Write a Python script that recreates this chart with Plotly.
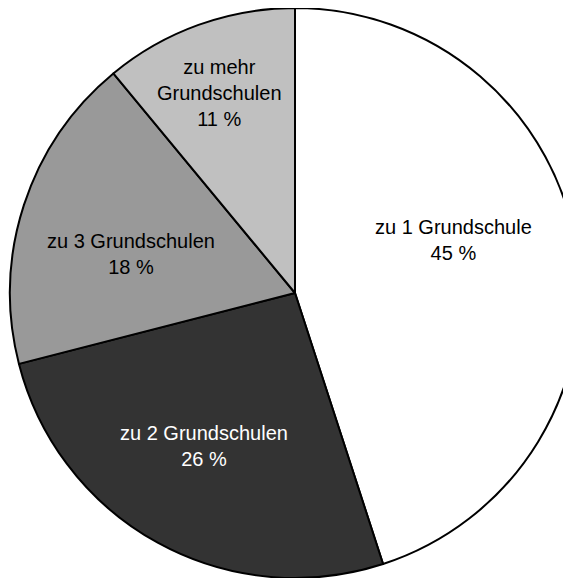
import plotly.graph_objects as go

# data
labels = ["zu 1 Grundschule", "zu 2 Grundschulen", "zu 3 Grundschulen", "zu mehr Grundschulen"]
display = ["zu 1 Grundschule", "zu 2 Grundschulen", "zu 3 Grundschulen", "zu mehr<br>Grundschulen"]
values = [45, 26, 18, 11]

# styling
C_SLICES = ["#ffffff", "#333333", "#999999", "#c0c0c0"]
C_TEXT = ["#000000", "#ffffff", "#000000", "#000000"]
FONT = "Liberation Sans, Arial, sans-serif"

# label placement in paper coordinates (the original puts them off-centroid)
LABEL_POS = [(0.777, 0.593), (0.341, 0.232), (0.214, 0.568), (0.369, 0.851)]

fig = go.Figure(go.Pie(
    labels=labels,
    values=values,
    textinfo="none",
    marker=dict(colors=C_SLICES, line=dict(color="#000000", width=2)),
    sort=False,
    direction="clockwise",
    rotation=0,
    showlegend=False,
    domain=dict(x=[0, 1], y=[0, 1]),
))

for txt, val, col, (px, py) in zip(display, values, C_TEXT, LABEL_POS):
    fig.add_annotation(
        x=px, y=py, xref="paper", yref="paper",
        text=f"{txt}<br>{val} %",
        showarrow=False,
        font=dict(color=col, size=20, family=FONT),
        align="center", xanchor="center", yanchor="middle",
    )

fig.update_layout(
    width=574, height=570,
    margin=dict(l=0, r=0, t=0, b=0),
    paper_bgcolor="#ffffff",
    plot_bgcolor="#ffffff",
)

fig.write_html("out.html")
